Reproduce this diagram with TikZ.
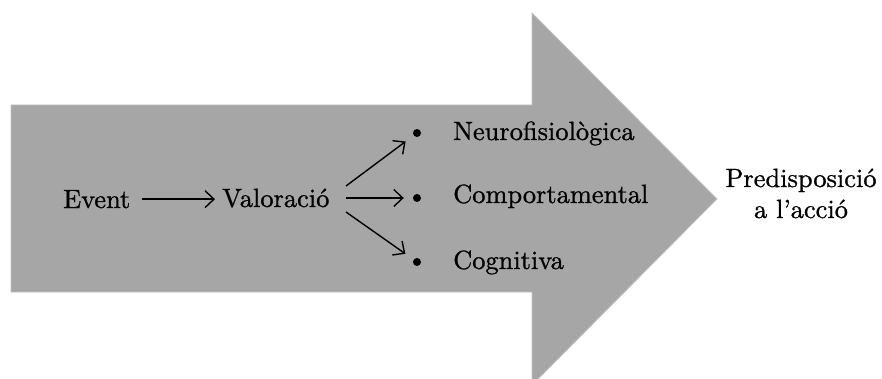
\documentclass[tikz,border=0pt]{standalone}
\usepackage{fontspec}
\setmainfont{lmroman10-regular}[Extension=.otf, FakeBold=0.9]
\usetikzlibrary{arrows.meta}
\definecolor{arrowgray}{RGB}{166,166,166}
\definecolor{edgegray}{RGB}{192,192,192}
\tikzset{
  lbl/.style={anchor=base west, inner sep=0pt, font=\fontsize{26.4}{31}\selectfont, text=black},
  bul/.style={circle, fill=black, inner sep=0pt, minimum size=8pt},
  conn/.style={line width=1.4pt, -{Straight Barb[length=9pt,width=17pt,line width=1.4pt]}}
}
\begin{document}
\begin{tikzpicture}[x=1pt,y=-1pt]
\useasboundingbox (0,0) rectangle (882,379);
\begin{scope}
\clip (0,0) rectangle (882,379);
\draw[fill=arrowgray, draw=edgegray, line width=0.8pt]
  (11,105) -- (532,105) -- (532,13) -- (717,199) -- (532,385) -- (532,292) -- (11,292) -- cycle;
\end{scope}
\node[lbl] (ev) at (63,208) {Event};
\node[lbl] (val) at (222,207) {Valoració};
\draw[conn, shorten <=11pt, shorten >=7pt] (ev.east) -- (val.west |- ev.east);
\node[bul] (b1) at (417,133) {};
\node[bul] (b2) at (417,198) {};
\node[bul] (b3) at (417,262) {};
\coordinate (s1) at (346,186);
\coordinate (s2) at (346,198);
\coordinate (s3) at (346,212);
\draw[conn, shorten >=10pt] (s1) -- (b1);
\draw[conn, shorten >=9pt] (s2) -- (b2);
\draw[conn, shorten >=10pt] (s3) -- (b3);
\node[lbl] (n1) at (453,140) {Neurofisiològica};
\node[lbl] (n2) at (453,203) {Comportamental};
\node[lbl] (n3) at (453,269) {Cognitiva};
\node[lbl, anchor=base] (pre) at (801,187) {Predisposició};
\node[lbl, anchor=base] (acc) at (801,218) {a l’acció};
\end{tikzpicture}
\end{document}
